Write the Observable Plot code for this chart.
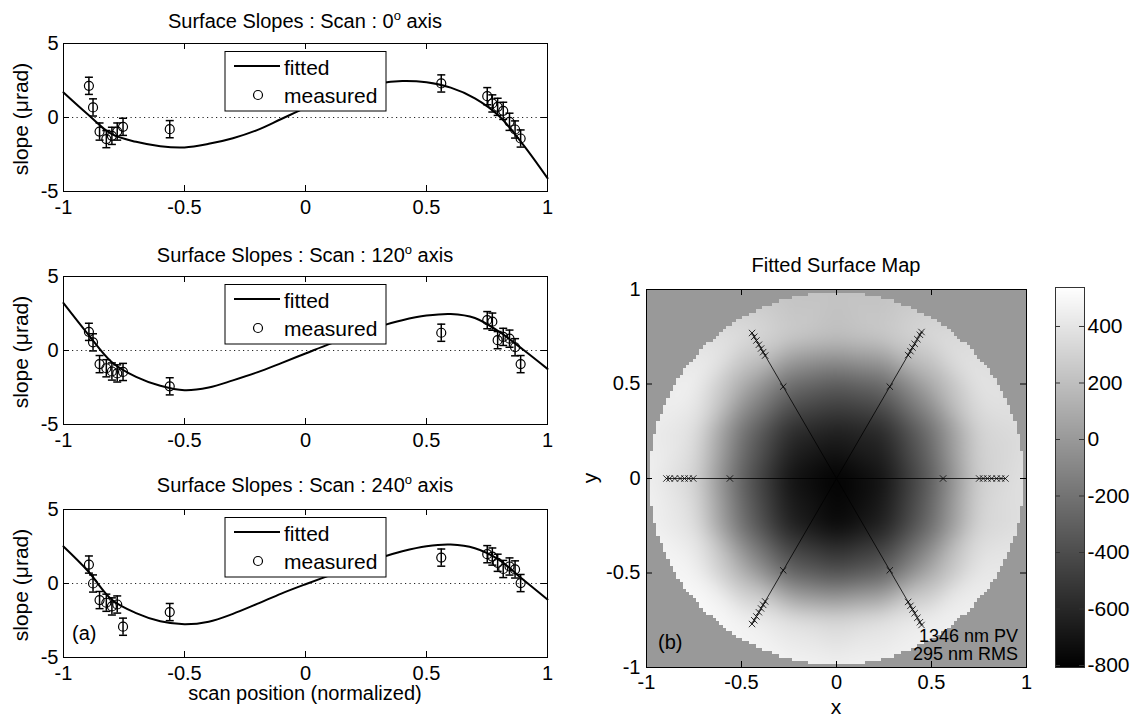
<!DOCTYPE html>
<html><head><meta charset="utf-8">
<script src="https://cdn.jsdelivr.net/npm/d3@7"></script>
<script src="https://cdn.jsdelivr.net/npm/@observablehq/plot@0.6"></script>
<style>
html,body{margin:0;padding:0;background:#fff;}
#root{position:relative;width:1141px;height:719px;overflow:hidden;background:#fff;}
</style></head>
<body><div id="root"></div>
<script>
// ---------------- data ----------------
const scanAngles = [0, 120, 240];
const scanPositions = [-0.895,-0.878,-0.851,-0.823,-0.800,-0.778,-0.754,-0.561,0.561,0.751,0.772,0.794,0.817,0.843,0.866,0.889];
const slopes0   = [2.14, 0.68,-0.95,-1.46,-1.24,-0.95,-0.63,-0.79, 2.30, 1.44, 0.95, 0.72, 0.45,-0.29,-0.81,-1.42];
const slopes120 = [1.26, 0.55,-0.92,-1.20,-1.42,-1.55,-1.45,-2.42, 1.20, 2.05, 1.95, 0.70, 0.92, 0.80, 0.22,-0.92];
const slopes240 = [1.28, 0.00,-1.12,-1.30,-1.55,-1.42,-2.92,-1.93, 1.75, 1.98, 1.82, 1.40, 0.98, 1.15, 0.95, 0.03];
const slopeError = 0.58;
const fitPositions = [-1,-0.9,-0.8,-0.7,-0.6,-0.5,-0.4,-0.3,-0.2,-0.1,0,0.1,0.2,0.3,0.4,0.5,0.6,0.7,0.8,0.9,1];
const fitted0   = [1.69, 0.22,-1.13,-1.64,-1.94,-2.02,-1.78,-1.40,-0.85,-0.10, 0.65, 1.35, 1.90, 2.30, 2.47, 2.38, 2.02, 1.30, 0.10,-1.85,-4.10];
const fitted120 = [3.20, 1.13,-0.79,-1.78,-2.38,-2.68,-2.50,-2.02,-1.48,-0.85,-0.20, 0.45, 1.05, 1.60, 2.05, 2.36, 2.47, 2.20, 1.27, 0.05,-1.24];
const fitted240 = [2.50, 0.86,-1.10,-2.00,-2.55,-2.75,-2.58,-2.05,-1.38,-0.68,-0.05, 0.55, 1.15, 1.70, 2.18, 2.52, 2.63, 2.38, 1.60, 0.25,-1.08];
const slopeXTicks = [-1,-0.5,0,0.5,1];
const slopeYTicks = [-5,0,5];

// fitted surface (nm) sampled on a grid, rows top (y=1) to bottom (y=-1)
const gridXs = [-1,-0.75,-0.5,-0.25,0,0.25,0.5,0.75,1];
const gridYs = [1,0.75,0.5,0.25,0,-0.25,-0.5,-0.75,-1];
const surfaceRows = [
  [300, 280, 240, 220, 220, 220, 240, 260, 270],
  [360, 380, 360, 260, 200, 250, 340, 340, 300],
  [420, 460, 120,-220,-320,-240, 100, 400, 340],
  [440, 380,-180,-560,-640,-580,-200, 310, 360],
  [460, 320,-290,-700,-808,-700,-300, 290, 380],
  [470, 380,-200,-620,-760,-630,-220, 320, 370],
  [480, 480, 140,-260,-380,-280, 110, 420, 400],
  [470, 520, 470, 380, 320, 380, 450, 460, 420],
  [450, 460, 480, 480, 460, 470, 460, 440, 420]
];
const apertureRadius = 0.985;
const outsideValue = 0;
const colorDomain = [-807, 538];
const mapTicks = [-1,-0.5,0,0.5,1];
const colorbarTicks = [-800,-600,-400,-200,0,200,400];

// ---------------- layout ----------------
const FONT = '"Liberation Sans", Arial, Helvetica, sans-serif';
const root = document.getElementById("root");
function place(node, left, top){ node.style.position="absolute"; node.style.left=left+"px"; node.style.top=top+"px"; root.appendChild(node); return node; }
const capSymbol = {draw(ctx, size){ const r = Math.sqrt(size/Math.PI); ctx.moveTo(-r,0); ctx.lineTo(r,0); }};
const colorScale = {type:"linear", domain: colorDomain, range:["black","white"], clamp:true};

const panelTop = [43, 276, 509];
const PL = 63, PW = 484, PH = 148, PR = 23, MT = 43;
const panels = [
  {deg:"0", slopes:slopes0, fitted:fitted0},
  {deg:"120", slopes:slopes120, fitted:fitted120},
  {deg:"240", slopes:slopes240, fitted:fitted240}
];
panels.forEach((p, i) => {
  const measured = scanPositions.map((x, j) => ({x, y: p.slopes[j]}));
  const fit = fitPositions.map((x, j) => ({x, y: p.fitted[j]}));
  const tx = 6*2/PW, ty = 6*10/PH;
  const chart = Plot.plot({
    width: PL+PW+PR, height: MT+PH+30,
    marginLeft: PL, marginRight: PR, marginTop: MT, marginBottom: 30,
    style: {fontFamily: FONT, fontSize: "20px", color: "black", background: "transparent", overflow: "visible"},
    x: {domain: [-1, 1]}, y: {domain: [-5, 5]},
    marks: [
      Plot.ruleY([0], {stroke: "#222", strokeDasharray: "1.2,3.3", strokeWidth: 1}),
      Plot.line(fit, {x: "x", y: "y", curve: "catmull-rom", stroke: "black", strokeWidth: 2}),
      Plot.ruleX(measured, {x: "x", y1: d => d.y - slopeError, y2: d => d.y + slopeError, stroke: "black", strokeWidth: 1.5}),
      Plot.dot(measured, {x: "x", y: d => d.y + slopeError, symbol: capSymbol, r: 4, stroke: "black", strokeWidth: 1.5}),
      Plot.dot(measured, {x: "x", y: d => d.y - slopeError, symbol: capSymbol, r: 4, stroke: "black", strokeWidth: 1.5}),
      Plot.dot(measured, {x: "x", y: "y", r: 4.5, stroke: "black", fill: "none", strokeWidth: 1.2}),
      Plot.frame({stroke: "black"}),
      Plot.ruleX(slopeXTicks, {y1: -5, y2: -5+ty, stroke: "black"}),
      Plot.ruleX(slopeXTicks, {y1: 5, y2: 5-ty, stroke: "black"}),
      Plot.ruleY(slopeYTicks, {x1: -1, x2: -1+tx, stroke: "black"}),
      Plot.ruleY(slopeYTicks, {x1: 1, x2: 1-tx, stroke: "black"}),
      Plot.axisX(slopeXTicks, {tickSize: 0, tickPadding: 8, tickFormat: d => String(d), label: null}),
      Plot.axisY(slopeYTicks, {tickSize: 0, tickPadding: 5, tickFormat: d => String(d), label: null})
    ]
  });
  place(chart, 0, panelTop[i] - MT);
});

// ---------------- surface map ----------------
const cells = surfaceRows.flatMap((row, i) => row.map((v, j) => ({x: gridXs[j], y: gridYs[i], v})));
const markers = scanAngles.flatMap(a => scanPositions.map(s => ({axis: a, x: s*Math.cos(a*Math.PI/180), y: s*Math.sin(a*Math.PI/180)})));
const ML = 46, MW = 380, MH = 378, MTop = 39;
const mtx = 6*2/MW, mty = 6*2/MH;
const map = Plot.plot({
  width: ML+MW+24, height: MTop+MH+40,
  marginLeft: ML, marginRight: 24, marginTop: MTop, marginBottom: 40,
  style: {fontFamily: FONT, fontSize: "20px", color: "black", background: "transparent", overflow: "visible"},
  x: {domain: [-1, 1]}, y: {domain: [-1, 1]}, color: colorScale,
  marks: [
    Plot.raster(cells, {x: "x", y: "y", fill: "v", interpolate: "barycentric", blur: 8, x1: -1, x2: 1, y1: -1, y2: 1}),
    Plot.raster({fill: (x, y) => Math.hypot(x, y) > apertureRadius ? outsideValue : NaN, x1: -1, x2: 1, y1: -1, y2: 1, width: 115, height: 115, imageRendering: "pixelated"}),
    Plot.line(markers, {x: "x", y: "y", z: "axis", stroke: "black", strokeWidth: 0.8}),
    Plot.dot(markers, {x: "x", y: "y", symbol: "times", r: 3, stroke: "black", strokeWidth: 0.8}),
    Plot.frame({stroke: "black"}),
    Plot.ruleX(mapTicks, {y1: -1, y2: -1+mty, stroke: "black"}),
    Plot.ruleX(mapTicks, {y1: 1, y2: 1-mty, stroke: "black"}),
    Plot.ruleY(mapTicks, {x1: -1, x2: -1+mtx, stroke: "black"}),
    Plot.ruleY(mapTicks, {x1: 1, x2: 1-mtx, stroke: "black"}),
    Plot.axisX(mapTicks, {tickSize: 0, tickPadding: 7, tickFormat: d => String(d), label: null}),
    Plot.axisY(mapTicks, {tickSize: 0, tickPadding: 6, tickFormat: d => String(d), label: null})
  ]
});
place(map, 646 - ML, 289 - MTop);

// ---------------- colorbar ----------------
const CW = 29, CH = 380;
const cb = Plot.plot({
  width: 15+CW+57, height: 17+CH+20,
  marginLeft: 15, marginRight: 57, marginTop: 17, marginBottom: 20,
  style: {fontFamily: FONT, fontSize: "21px", color: "black", background: "transparent", overflow: "visible"},
  x: {domain: [0, 1], axis: null}, y: {domain: colorDomain}, color: colorScale,
  marks: [
    Plot.raster({fill: (x, y) => y, x1: 0, x2: 1, y1: colorDomain[0], y2: colorDomain[1]}),
    Plot.frame({stroke: "#333"}),
    Plot.ruleY(colorbarTicks, {x1: 0, x2: 5/CW, stroke: "#333"}),
    Plot.ruleY(colorbarTicks, {x1: 1, x2: 1-5/CW, stroke: "#333"}),
    Plot.axisY(colorbarTicks, {anchor: "right", tickSize: 0, tickPadding: 3, tickFormat: d => String(d), label: null})
  ]
});
place(cb, 1055 - 15, 287 - 17);

// ---------------- text overlay ----------------
const ov = d3.select(root).append("svg")
  .attr("width", 1141).attr("height", 719)
  .style("position", "absolute").style("left", "0px").style("top", "0px")
  .style("font-family", FONT).attr("fill", "black");

panels.forEach((p, i) => {
  const T = panelTop[i];
  const t = ov.append("text").attr("x", 305).attr("y", [28, 262, 492][i]).attr("text-anchor", "middle").attr("font-size", 20);
  t.append("tspan").text(`Surface Slopes : Scan : ${p.deg}`);
  t.append("tspan").attr("font-size", 13).attr("dy", -8).text("o");
  t.append("tspan").attr("dy", 8).text(" axis");

  ov.append("text").attr("transform", `translate(27.5,${T + 76}) rotate(-90)`).attr("text-anchor", "middle").attr("font-size", 21).text("slope (\u03BCrad)");

  const g = ov.append("g");
  g.append("rect").attr("x", 225).attr("y", T + 8.5).attr("width", 161).attr("height", 59.5).attr("fill", "white").attr("stroke", "black").attr("stroke-width", 1);
  g.append("line").attr("x1", 234).attr("x2", 280).attr("y1", T + 23).attr("y2", T + 23).attr("stroke", "black").attr("stroke-width", 2);
  g.append("circle").attr("cx", 258).attr("cy", T + 52).attr("r", 4.5).attr("fill", "none").attr("stroke", "black").attr("stroke-width", 1.2);
  g.append("text").attr("x", 284).attr("y", T + 32).attr("font-size", 21).text("fitted");
  g.append("text").attr("x", 284).attr("y", T + 60).attr("font-size", 21).text("measured");
});
ov.append("text").attr("x", 305).attr("y", 700).attr("text-anchor", "middle").attr("font-size", 20).text("scan position (normalized)");
ov.append("text").attr("x", 72).attr("y", 640).attr("font-size", 20).text("(a)");

ov.append("text").attr("x", 836).attr("y", 272).attr("text-anchor", "middle").attr("font-size", 20).text("Fitted Surface Map");
ov.append("text").attr("x", 836).attr("y", 714).attr("text-anchor", "middle").attr("font-size", 21).text("x");
ov.append("text").attr("transform", "translate(597,478) rotate(-90)").attr("text-anchor", "middle").attr("font-size", 21).text("y");
ov.append("text").attr("x", 658).attr("y", 649).attr("font-size", 20).text("(b)");
ov.append("text").attr("x", 1018).attr("y", 642).attr("text-anchor", "end").attr("font-size", 18).text("1346 nm PV");
ov.append("text").attr("x", 1018).attr("y", 660).attr("text-anchor", "end").attr("font-size", 18).text("295 nm RMS");
</script>
</body></html>
